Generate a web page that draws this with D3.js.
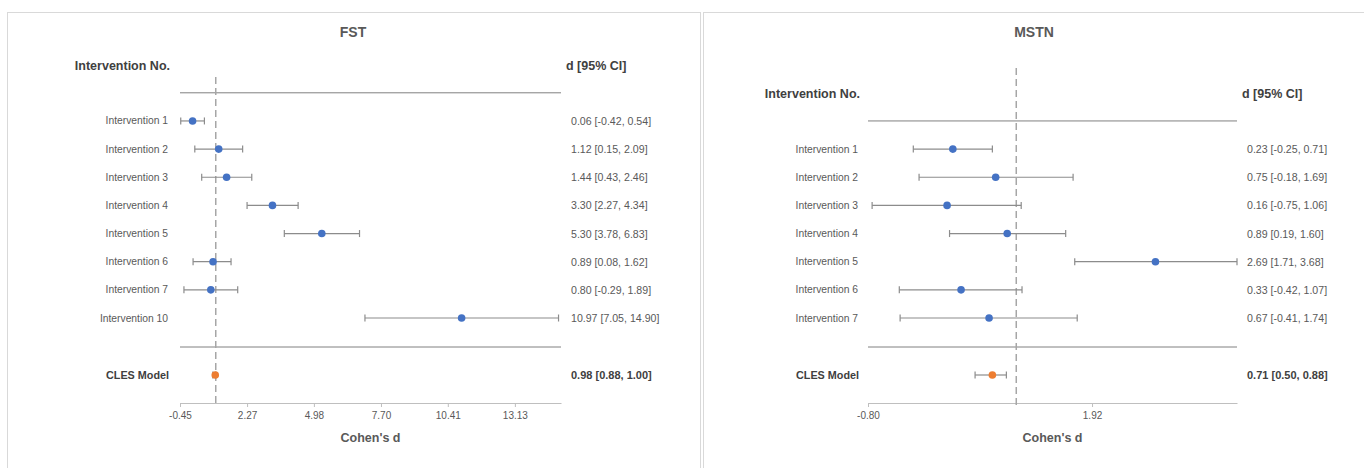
<!DOCTYPE html>
<html>
<head>
<meta charset="utf-8">
<script src="https://cdn.jsdelivr.net/npm/d3@7"></script>
<style>
  html, body { margin: 0; padding: 0; background: #ffffff; }
  svg { display: block; font-family: "Liberation Sans", Arial, sans-serif; }
</style>
</head>
<body>
<svg id="chart" width="1364" height="468"></svg>
<script>
// ---- FST forest plot data ----
const fstLabels = ["Intervention 1", "Intervention 2", "Intervention 3", "Intervention 4",
                   "Intervention 5", "Intervention 6", "Intervention 7", "Intervention 10"];
const fstD  = [0.06, 1.12, 1.44, 3.30, 5.30, 0.89, 0.80, 10.97];
const fstLo = [-0.42, 0.15, 0.43, 2.27, 3.78, 0.08, -0.29, 7.05];
const fstHi = [0.54, 2.09, 2.46, 4.34, 6.83, 1.62, 1.89, 14.90];
const fstModel = { label: "CLES Model", d: 0.98, lo: 0.88, hi: 1.00 };
const fstTicks = [-0.45, 2.27, 4.98, 7.70, 10.41, 13.13];
const fstDomain = [-0.45, 15.0];

// ---- MSTN forest plot data ----
const mstnLabels = ["Intervention 1", "Intervention 2", "Intervention 3", "Intervention 4",
                    "Intervention 5", "Intervention 6", "Intervention 7"];
const mstnD  = [0.23, 0.75, 0.16, 0.89, 2.69, 0.33, 0.67];
const mstnLo = [-0.25, -0.18, -0.75, 0.19, 1.71, -0.42, -0.41];
const mstnHi = [0.71, 1.69, 1.06, 1.60, 3.68, 1.07, 1.74];
const mstnModel = { label: "CLES Model", d: 0.71, lo: 0.50, hi: 0.88 };
const mstnTicks = [-0.80, 1.92];
const mstnDomain = [-0.80, 3.68];

// reference (null-effect) line position
const refLine = 1.0;

const svg = d3.select("#chart");
// two decimals, plain hyphen for negatives
const fmt = v => v.toFixed(2);
const ciText = (d, lo, hi) => `${fmt(d)} [${fmt(lo)}, ${fmt(hi)}]`;

function drawPanel(cfg) {
  const g = svg.append("g");

  // panel frame
  g.append("rect")
    .attr("x", cfg.box[0] + 0.5).attr("y", cfg.box[1] + 0.5)
    .attr("width", cfg.box[2]).attr("height", cfg.box[3])
    .attr("fill", "#fff").attr("stroke", "#d9d9d9").attr("stroke-width", 1);

  const x = d3.scaleLinear().domain(cfg.domain).range(cfg.xRange);
  const rowStep = 28.15;
  const lastRowY = 318;
  const n = cfg.labels.length;
  const y = d3.scalePoint()
    .domain(cfg.labels)
    .range([lastRowY - (n - 1) * rowStep, lastRowY]);
  const firstY = y(cfg.labels[0]);
  const topLineY = firstY - rowStep;
  const headerY = topLineY - 27;
  const bottomLineY = 347;
  const modelY = 375;
  const axisY = 403;
  const cx = (cfg.xRange[0] + cfg.xRange[1]) / 2;
  const valueLeft = cfg.xRange[1] + 10;

  // title
  g.append("text")
    .attr("x", cfg.titleX).attr("y", 32)
    .attr("text-anchor", "middle").attr("dominant-baseline", "central")
    .attr("font-size", 14).attr("font-weight", "bold").attr("fill", "#595959")
    .text(cfg.title);

  // column headers
  g.append("text")
    .attr("x", cfg.labelRight + 2).attr("y", headerY)
    .attr("text-anchor", "end").attr("dominant-baseline", "central")
    .attr("font-size", 12.5).attr("font-weight", "bold").attr("fill", "#404040")
    .text("Intervention No.");
  g.append("text")
    .attr("x", valueLeft - 5).attr("y", headerY)
    .attr("text-anchor", "start").attr("dominant-baseline", "central")
    .attr("font-size", 12.5).attr("font-weight", "bold").attr("fill", "#404040")
    .text("d [95% CI]");

  // separator lines
  [topLineY, bottomLineY].forEach(yy => {
    g.append("line")
      .attr("x1", cfg.xRange[0]).attr("x2", cfg.xRange[1])
      .attr("y1", yy).attr("y2", yy)
      .attr("stroke", "#808080").attr("stroke-width", 1);
  });

  // x axis
  const axis = d3.axisBottom(x).tickValues(cfg.ticks).tickFormat(fmt)
    .tickSize(4).tickSizeOuter(0).tickPadding(5);
  const ax = g.append("g").attr("transform", `translate(0,${axisY})`).call(axis);
  ax.select(".domain").attr("stroke", "#bfbfbf");
  ax.selectAll(".tick line").attr("stroke", "#bfbfbf");
  ax.selectAll(".tick text").attr("font-size", 10).attr("fill", "#595959")
    .attr("font-family", "'Liberation Sans', Arial, sans-serif");

  g.append("text")
    .attr("x", cx).attr("y", 438)
    .attr("text-anchor", "middle").attr("dominant-baseline", "central")
    .attr("font-size", 12.5).attr("font-weight", "bold").attr("fill", "#595959")
    .text("Cohen's d");

  // dashed reference line
  g.append("line")
    .attr("x1", x(refLine)).attr("x2", x(refLine))
    .attr("y1", cfg.dashTop).attr("y2", axisY + 2)
    .attr("stroke", "#a6a6a6").attr("stroke-width", 1.5)
    .attr("stroke-dasharray", "7,4");

  // study rows
  const rows = cfg.labels.map((lab, i) => ({
    label: lab, d: cfg.d[i], lo: cfg.lo[i], hi: cfg.hi[i], y: y(lab)
  }));

  const row = g.selectAll("g.row").data(rows).join("g").attr("class", "row");
  row.append("text")
    .attr("x", cfg.labelRight).attr("y", r => r.y)
    .attr("text-anchor", "end").attr("dominant-baseline", "central")
    .attr("font-size", 10.3).attr("fill", "#595959")
    .text(r => r.label);
  row.append("line")
    .attr("x1", r => x(r.lo)).attr("x2", r => x(r.hi))
    .attr("y1", r => r.y).attr("y2", r => r.y)
    .attr("stroke", "#8c8c8c").attr("stroke-width", 1.2);
  ["lo", "hi"].forEach(k => {
    row.append("line")
      .attr("x1", r => x(r[k])).attr("x2", r => x(r[k]))
      .attr("y1", r => r.y - 3.5).attr("y2", r => r.y + 3.5)
      .attr("stroke", "#8c8c8c").attr("stroke-width", 1.2);
  });
  row.append("circle")
    .attr("cx", r => x(r.d)).attr("cy", r => r.y).attr("r", 3.8)
    .attr("fill", "#4472c4");
  row.append("text")
    .attr("x", valueLeft).attr("y", r => r.y)
    .attr("text-anchor", "start").attr("dominant-baseline", "central")
    .attr("font-size", 10.6).attr("fill", "#595959")
    .text(r => ciText(r.d, r.lo, r.hi));

  // pooled model row
  const m = cfg.model;
  g.append("text")
    .attr("x", cfg.labelRight + 1).attr("y", modelY)
    .attr("text-anchor", "end").attr("dominant-baseline", "central")
    .attr("font-size", 10.8).attr("font-weight", "bold").attr("fill", "#404040")
    .text(m.label);
  g.append("line")
    .attr("x1", x(m.lo)).attr("x2", x(m.hi))
    .attr("y1", modelY).attr("y2", modelY)
    .attr("stroke", "#8c8c8c").attr("stroke-width", 1.2);
  [m.lo, m.hi].forEach(v => {
    g.append("line")
      .attr("x1", x(v)).attr("x2", x(v))
      .attr("y1", modelY - 3.5).attr("y2", modelY + 3.5)
      .attr("stroke", "#8c8c8c").attr("stroke-width", 1.2);
  });
  g.append("circle")
    .attr("cx", x(m.d)).attr("cy", modelY).attr("r", 3.8)
    .attr("fill", "#ed7d31");
  g.append("text")
    .attr("x", valueLeft).attr("y", modelY)
    .attr("text-anchor", "start").attr("dominant-baseline", "central")
    .attr("font-size", 11).attr("font-weight", "bold").attr("fill", "#404040")
    .text(ciText(m.d, m.lo, m.hi));
}

drawPanel({
  title: "FST", titleX: 353, box: [7, 12, 693, 470],
  labels: fstLabels, d: fstD, lo: fstLo, hi: fstHi, model: fstModel,
  ticks: fstTicks, domain: fstDomain, xRange: [180, 561],
  labelRight: 168, dashTop: 77
});

drawPanel({
  title: "MSTN", titleX: 1034, box: [703, 12, 670, 470],
  labels: mstnLabels, d: mstnD, lo: mstnLo, hi: mstnHi, model: mstnModel,
  ticks: mstnTicks, domain: mstnDomain, xRange: [868, 1237],
  labelRight: 858, dashTop: 68
});
</script>
</body>
</html>
